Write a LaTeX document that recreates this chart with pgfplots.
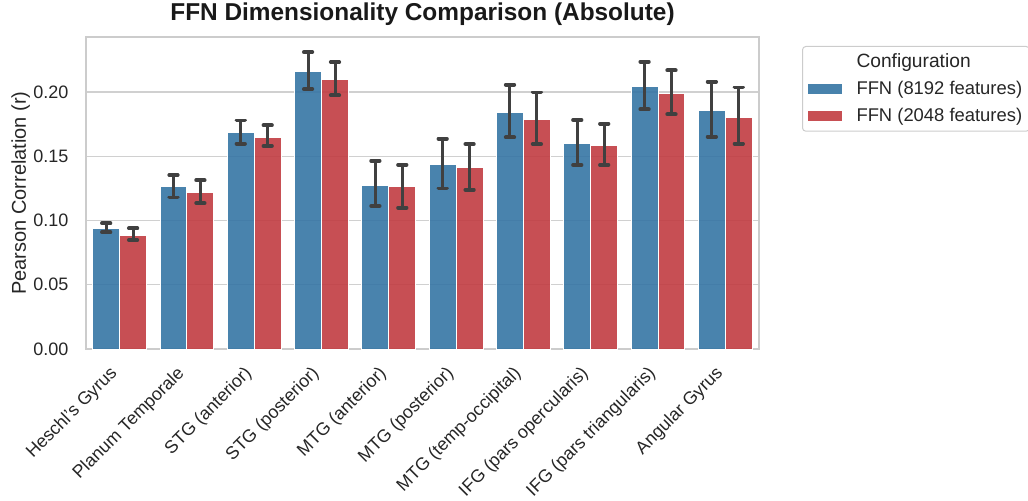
\documentclass[border=0pt]{standalone}
\usepackage{fontspec}
\setmainfont{Liberation Sans}
\usepackage{pgfplots}
\usepackage{pgfplotstable}
\pgfplotsset{compat=1.18}
\definecolor{barblue}{HTML}{3575A4}
\definecolor{barred}{HTML}{C13C41}
\definecolor{gridgray}{HTML}{D0D0D0}
\definecolor{framegray}{HTML}{CCCCCC}
\definecolor{errgray}{HTML}{404040}
\definecolor{txt}{HTML}{262626}

\pgfplotstableread{
i v p m
0 0.0934 0.0044 0.0026
1 0.1261 0.0093 0.0081
2 0.1684 0.0095 0.0086
3 0.2162 0.0149 0.0139
4 0.1274 0.0191 0.0161
5 0.1437 0.0200 0.0187
6 0.1844 0.0213 0.0197
7 0.1600 0.0182 0.0168
8 0.2041 0.0195 0.0176
9 0.1857 0.0223 0.0205
}\bigdata
\pgfplotstableread{
i v p m
0 0.0887 0.0052 0.0039
1 0.1217 0.0096 0.0081
2 0.1645 0.0096 0.0065
3 0.2099 0.0134 0.0125
4 0.1266 0.0168 0.0166
5 0.1413 0.0182 0.0173
6 0.1787 0.0210 0.0192
7 0.1585 0.0168 0.0153
8 0.1992 0.0177 0.0166
9 0.1802 0.0234 0.0204
}\smalldata

\begin{document}
\begin{tikzpicture}
\begin{axis}[
  at={(0pt,0pt)}, anchor=south west,
  scale only axis,
  width=504.75pt, height=234pt,
  xmin=-0.5, xmax=9.5,
  ymin=0, ymax=0.2428,
  xtick={0,...,9},
  xticklabels={Heschl's Gyrus, Planum Temporale, STG (anterior), STG (posterior), MTG (anterior), MTG (posterior), MTG (temp-occipital), IFG (pars opercularis), IFG (pars triangularis), Angular Gyrus},
  ytick={0,0.05,0.1,0.15,0.2},
  /pgf/number format/assume math mode=true,
  yticklabel style={/pgf/number format/fixed, /pgf/number format/fixed zerofill, /pgf/number format/precision=2, inner sep=0pt, xshift=-13pt, font=\fontsize{13.5}{15}\selectfont, text=txt},
  xticklabel style={xshift=-8.3pt, yshift=-11.8pt, rotate=45, anchor=north east, inner sep=0pt, font=\fontsize{13.4}{15}\selectfont, text=txt},
  scaled y ticks=false,
  major tick length=0pt,
  ymajorgrids,
  major grid style={color=gridgray, line width=0.9pt},
  axis line style={color=framegray, line width=1.2pt},
  ylabel={Pearson Correlation (r)},
  ylabel style={at={(axis description cs:0,0.5)}, anchor=base, yshift=45pt, font=\fontsize{15}{18}\selectfont, text=txt},
  title={\textbf{FFN Dimensionality Comparison (Absolute)}},
  title style={at={(axis description cs:0.5,1)}, anchor=base, yshift=6pt, font=\fontsize{18.3}{21}\selectfont, text=black!90},
  legend style={at={(1.0639,0.9712)}, anchor=north west, draw=framegray, line width=0.75pt, rounded corners=2.5pt, fill=white,
    font=\fontsize{13.8}{15}\selectfont, text=txt, inner xsep=3.5pt, inner ysep=3.5pt, row sep=4.8pt,
    /tikz/every odd column/.append style={column sep=8pt}},
  legend cell align=left,
  legend image code/.code={\fill[#1, sharp corners, fill opacity=0.9] (0pt,-4pt) rectangle (26.25pt,4pt);},
]
\addlegendimage{empty legend}
\addlegendentry{\fontsize{14.4}{16}\selectfont Configuration}
\addplot[ybar, bar width=0.4, bar shift=0, fill=barblue, fill opacity=0.9, draw=white, line width=0.75pt,
  error bars/.cd, y dir=both, y explicit, error mark=|,
  error bar style={color=errgray, line width=2.25pt, draw opacity=1},
  error mark options={color=errgray, line width=2.8pt, mark size=3.2pt, line cap=round, draw opacity=1}]
  table[x expr=\thisrow{i}-0.2, y=v, y error plus=p, y error minus=m] {\bigdata};
\addlegendentry{FFN (8192 features)}
\addplot[ybar, bar width=0.4, bar shift=0, fill=barred, fill opacity=0.9, draw=white, line width=0.75pt,
  error bars/.cd, y dir=both, y explicit, error mark=|,
  error bar style={color=errgray, line width=2.25pt, draw opacity=1},
  error mark options={color=errgray, line width=2.8pt, mark size=3.2pt, line cap=round, draw opacity=1}]
  table[x expr=\thisrow{i}+0.2, y=v, y error plus=p, y error minus=m] {\smalldata};
\addlegendentry{FFN (2048 features)}
\end{axis}
\pgfresetboundingbox
\path[use as bounding box] (-64.5pt,-113.25pt) rectangle (706.5pt,261.75pt);
\end{tikzpicture}
\end{document}
